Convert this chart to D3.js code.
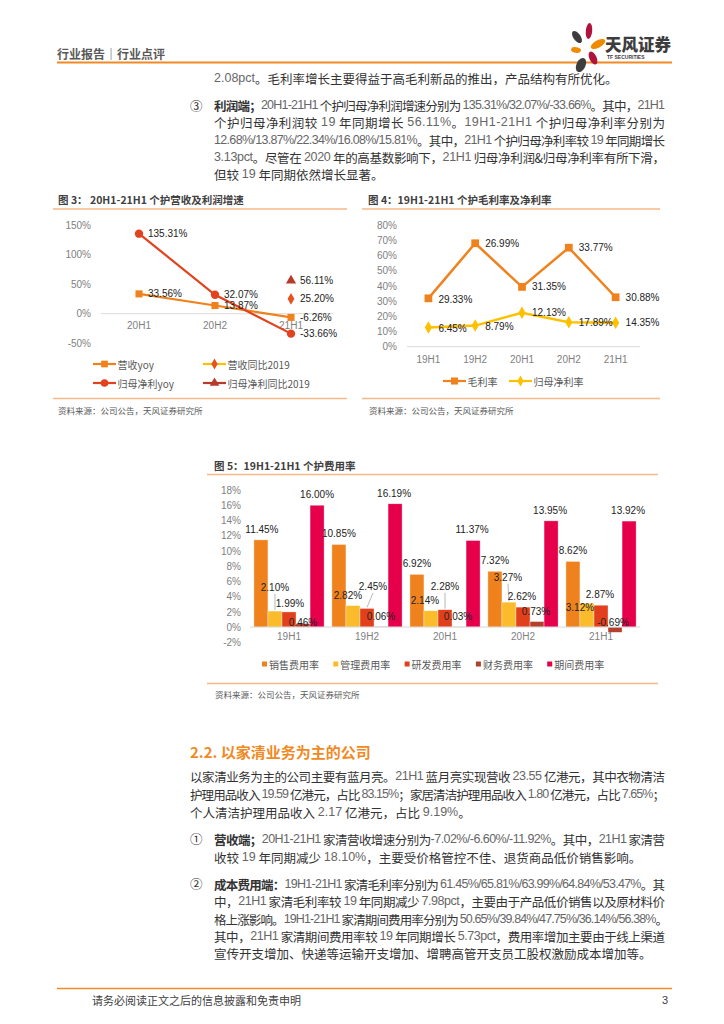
<!DOCTYPE html>
<html><head><meta charset="utf-8">
<script src="https://cdn.jsdelivr.net/npm/d3@7/dist/d3.min.js"></script>
<style>
body{margin:0;background:#fff;}
svg{display:block;}
.body{font-family:"Noto Sans CJK SC","Noto Sans",sans-serif;font-size:12.5px;fill:#333;}
.num{font-family:"Liberation Sans Narrow","Liberation Sans",Arial,sans-serif;fill:#666;font-weight:400;}
.ax text{font-family:"Liberation Sans",Arial,sans-serif;font-size:10px;fill:#7f7f7f;}
.cat{font-family:"Liberation Sans",Arial,sans-serif;font-size:10px;fill:#7f7f7f;}
.lbl{font-family:"Liberation Sans",Arial,sans-serif;font-size:10px;fill:#222;}
.leg{font-family:"Noto Sans CJK SC",sans-serif;font-size:10px;fill:#595959;}
.ttl{font-family:"Noto Sans CJK SC",sans-serif;font-size:10.5px;font-weight:700;fill:#404040;}
.src{font-family:"Noto Sans CJK SC",sans-serif;font-size:8.5px;fill:#595959;}
</style></head>
<body><svg id="page" width="724" height="1024"></svg>
<script>
// ---------------- DATA ----------------
// Figure 3
const cats3 = ['20H1','20H2','21H1'];
const ticks3 = [-50, 0, 50, 100, 150];
const revYoy = [33.56, 13.87, -6.26];
const profitYoy = [135.31, 32.07, -33.66];
const revVs2019 = [null, null, 25.20];
const profitVs2019 = [null, null, 56.11];
const legend3 = ['营收yoy','营收同比2019','归母净利yoy','归母净利同比2019'];
// Figure 4
const cats4 = ['19H1','19H2','20H1','20H2','21H1'];
const ticks4 = [0,10,20,30,40,50,60,70,80];
const grossMargin = [31.8, 68.0, 39.3, 65.1, 32.5];
const grossMarginLabels = ['29.33%','26.99%','31.35%','33.77%','30.88%'];
const netMargin = [12.68, 13.87, 22.34, 16.08, 15.81];
const netMarginLabels = ['6.45%','8.79%','12.13%','17.89%','14.35%'];
const legend4 = ['毛利率','归母净利率'];
// Figure 5
const cats5 = ['19H1','19H2','20H1','20H2','21H1'];
const ticks5 = [-2,0,2,4,6,8,10,12,14,16,18];
const salesRate = [11.45, 10.85, 6.92, 7.32, 8.62];
const adminRate = [2.10, 2.82, 2.14, 3.27, 3.12];
const rdRate = [1.99, 2.45, 2.28, 2.62, 2.87];
const finRate = [0.46, 0.06, 0.03, 0.73, -0.69];
const periodRate = [16.00, 16.19, 11.37, 13.95, 13.92];
const series5 = ['销售费用率','管理费用率','研发费用率','财务费用率','期间费用率'];

// ---------------- LAYOUT / STYLE ----------------
const C = {orange:'#F0821E', yellow:'#FFC000', red:'#E2431E', dred:'#B83A2B', pink:'#E6004C',
  gold:'#FBBB2B', rd:'#E2401C', fin:'#B3402C', line:'#F5B887', hdr:'#F08A24', axis:'#D9D9D9'};
const svg = d3.select('#page');

function rich(x, y, str, bold, width, anchorStart){
  const t = svg.append('text').attr('class','body').attr('x',x).attr('y',y)
    .attr('dominant-baseline','central').attr('xml:space','preserve');
  if(bold) t.append('tspan').attr('font-weight',700).attr('fill','#333').text(bold);
  str.split(/([0-9][0-9A-Za-z.%\/\-]*|[A-Za-z][A-Za-z0-9.%\/\-]*|-[0-9][0-9.%\/\-]*)/).forEach((p,i)=>{
    if(!p) return;
    const ts = t.append('tspan').text(p);
    if(i%2===1) ts.attr('class','num');
  });
  if(width) t.attr('textLength',width).attr('lengthAdjust','spacing');
}

// ---------- header ----------
svg.append('text').attr('x',57).attr('y',53).attr('dominant-baseline','central')
  .attr('font-family','Noto Sans CJK SC').attr('font-size',12).attr('font-weight',700).attr('fill','#595959')
  .text('行业报告｜行业点评');
svg.append('line').attr('x1',57).attr('x2',672).attr('y1',62.5).attr('y2',62.5).attr('stroke',C.hdr).attr('stroke-width',2);
// logo
const logo = svg.append('g');
[[577,37,3.6,7,-35,'#3d3d3d'],[589,31,3.2,8,5,'#B0143C'],[598,44,3.6,8,62,'#F08A00'],[576,50,5,2.8,10,'#F08A00'],
 [593,58,3.6,7,-25,'#B0143C'],[581,65,4.5,7.5,25,'#3d3d3d']].forEach(p=>{
  logo.append('ellipse').attr('cx',p[0]).attr('cy',p[1]).attr('rx',p[2]).attr('ry',p[3])
   .attr('transform',`rotate(${p[4]},${p[0]},${p[1]})`).attr('fill',p[5]);
});
logo.append('text').attr('x',605).attr('y',44).attr('dominant-baseline','central').attr('font-family','Noto Sans CJK SC')
  .attr('font-size',16.5).attr('font-weight',900).attr('fill','#3d3d3d').text('天风证券');
logo.append('text').attr('x',607).attr('y',57).attr('dominant-baseline','central').attr('font-family','Liberation Sans')
  .attr('font-size',5).attr('font-weight',700).attr('fill','#3d3d3d').text('TF SECURITIES');

// ---------- upper text ----------
const R = 665;
rich(214, 78, '2.08pct。毛利率增长主要得益于高毛利新品的推出，产品结构有所优化。');
svg.append('text').attr('class','body').attr('x',190).attr('y',105).attr('dominant-baseline','central').text('③');
rich(214, 105, '20H1-21H1 个护归母净利润增速分别为 135.31%/32.07%/-33.66%。其中，21H1', '利润端；', R-214);
rich(214, 122, '个护归母净利润较 19 年同期增长 56.11%。19H1-21H1 个护归母净利率分别为', null, R-214);
rich(214, 139.5, '12.68%/13.87%/22.34%/16.08%/15.81%。其中，21H1 个护归母净利率较 19 年同期增长', null, R-214);
rich(214, 157, '3.13pct。尽管在 2020 年的高基数影响下，21H1 归母净利润&归母净利率有所下滑，', null, R-214);
rich(214, 174, '但较 19 年同期依然增长显著。');

// ---------- chart frames ----------
function frame(x1,x2,yTop,yBot,title,tx,srcX,srcY){
  svg.append('text').attr('class','ttl').attr('x',tx).attr('y',199.5).attr('dominant-baseline','central').text(title);
  svg.append('line').attr('x1',x1).attr('x2',x2).attr('y1',yTop).attr('y2',yTop).attr('stroke',C.line).attr('stroke-width',1.5);
  svg.append('line').attr('x1',x1).attr('x2',x2).attr('y1',yBot).attr('y2',yBot).attr('stroke',C.line).attr('stroke-width',1.5);
  svg.append('text').attr('class','src').attr('x',srcX).attr('y',srcY).attr('dominant-baseline','central').text('资料来源：公司公告，天风证券研究所');
}
frame(53,347,209,398.5,'图 3：  20H1-21H1 个护营收及利润增速',58,58,410);
frame(362,660,209,398.5,'图 4：19H1-21H1 个护毛利率及净利率',368,369,410);

const sym = (type,size)=>d3.symbol().type(type).size(size)();

// ---------- Figure 3 ----------
{
  const y = d3.scaleLinear().domain([-50,150]).range([343.3,225]);
  const x = d3.scalePoint().domain(cats3).range([101,329]).padding(0.5);
  const g = svg.append('g');
  g.append('g').attr('class','ax').attr('transform','translate(91,0)')
    .call(d3.axisLeft(y).tickValues(ticks3).tickFormat(d=>d+'%').tickSize(0).tickPadding(0))
    .call(a=>a.select('.domain').remove());
  g.append('line').attr('x1',101).attr('x2',333).attr('y1',y(0)).attr('y2',y(0)).attr('stroke',C.axis);
  g.selectAll('.c3').data(cats3).join('text').attr('class','cat').attr('x',d=>x(d)).attr('y',y(0)+12)
    .attr('text-anchor','middle').attr('dominant-baseline','central').text(d=>d);
  const line = d3.line().x((d,i)=>x(cats3[i])).y(d=>y(d));
  g.append('path').attr('d',line(revYoy)).attr('fill','none').attr('stroke',C.orange).attr('stroke-width',2.2);
  g.append('path').attr('d',line(profitYoy)).attr('fill','none').attr('stroke',C.red).attr('stroke-width',2.2);
  const pts = (arr,shape,size,color)=>{
    arr.forEach((v,i)=>{ if(v==null) return;
      g.append('path').attr('d',sym(shape,size)).attr('transform',`translate(${x(cats3[i])},${y(v)})`).attr('fill',color);
      g.append('text').attr('class','lbl').attr('x',x(cats3[i])+9).attr('y',y(v)).attr('dominant-baseline','central')
        .text(v.toFixed(2)+'%');
    });
  };
  pts(revYoy,d3.symbolSquare,50,C.orange);
  pts(profitYoy,d3.symbolCircle,55,C.red);
  pts(revVs2019,d3.symbolDiamond,40,'#E8501E');
  pts(profitVs2019,d3.symbolTriangle,45,C.dred);
  const leg = [[legend3[0],C.orange,C.orange,d3.symbolSquare,45,93,364],[legend3[1],C.yellow,'#E8501E',d3.symbolDiamond,35,203,364],
               [legend3[2],C.red,C.red,d3.symbolCircle,45,93,383],[legend3[3],C.dred,C.dred,d3.symbolTriangle,40,203,383]];
  leg.forEach(l=>{
    g.append('line').attr('x1',l[5]).attr('x2',l[5]+23).attr('y1',l[6]).attr('y2',l[6]).attr('stroke',l[1]).attr('stroke-width',2.2);
    g.append('path').attr('d',sym(l[3],l[4])).attr('transform',`translate(${l[5]+11.5},${l[6]})`).attr('fill',l[2]);
    g.append('text').attr('class','leg').attr('x',l[5]+24.5).attr('y',l[6]).attr('dominant-baseline','central').text(l[0]);
  });
}

// ---------- Figure 4 ----------
{
  const y = d3.scaleLinear().domain([0,80]).range([346.7,225]);
  const x = d3.scalePoint().domain(cats4).range([405,639]).padding(0.5);
  const g = svg.append('g');
  g.append('g').attr('class','ax').attr('transform','translate(397,0)')
    .call(d3.axisLeft(y).tickValues(ticks4).tickFormat(d=>d+'%').tickSize(0).tickPadding(0))
    .call(a=>a.select('.domain').remove());
  g.append('line').attr('x1',407).attr('x2',640).attr('y1',y(0)).attr('y2',y(0)).attr('stroke',C.axis);
  g.selectAll('.c4').data(cats4).join('text').attr('class','cat').attr('x',d=>x(d)).attr('y',y(0)+12.5)
    .attr('text-anchor','middle').attr('dominant-baseline','central').text(d=>d);
  const line = d3.line().x((d,i)=>x(cats4[i])).y(d=>y(d));
  g.append('path').attr('d',line(grossMargin)).attr('fill','none').attr('stroke',C.orange).attr('stroke-width',2.5);
  g.append('path').attr('d',line(netMargin)).attr('fill','none').attr('stroke',C.yellow).attr('stroke-width',2.5);
  grossMargin.forEach((v,i)=>g.append('path').attr('d',sym(d3.symbolSquare,60)).attr('transform',`translate(${x(cats4[i])},${y(v)})`).attr('fill',C.orange));
  netMargin.forEach((v,i)=>g.append('path').attr('d',sym(d3.symbolDiamond,45)).attr('transform',`translate(${x(cats4[i])},${y(v)})`).attr('fill',C.yellow));
  grossMargin.forEach((v,i)=>g.append('text').attr('class','lbl').attr('x',x(cats4[i])+10).attr('y',y(v)+(i===0?1:0)).attr('dominant-baseline','central').text(grossMarginLabels[i]));
  netMargin.forEach((v,i)=>g.append('text').attr('class','lbl').attr('x',x(cats4[i])+10).attr('y',y(v)+(i<2?1:0)).attr('dominant-baseline','central').text(netMarginLabels[i]));
  const leg = [[legend4[0],C.orange,d3.symbolSquare,50,443],[legend4[1],C.yellow,d3.symbolDiamond,35,509]];
  leg.forEach(l=>{
    g.append('line').attr('x1',l[4]).attr('x2',l[4]+23).attr('y1',381).attr('y2',381).attr('stroke',l[1]).attr('stroke-width',2.2);
    g.append('path').attr('d',sym(l[2],l[3])).attr('transform',`translate(${l[4]+11.5},381)`).attr('fill',l[1]);
    g.append('text').attr('class','leg').attr('x',l[4]+24.5).attr('y',381).attr('dominant-baseline','central').text(l[0]);
  });
}

// ---------- Figure 5 ----------
{
  svg.append('text').attr('class','ttl').attr('x',214).attr('y',465).attr('dominant-baseline','central').text('图 5：19H1-21H1 个护费用率');
  svg.append('line').attr('x1',207).attr('x2',658).attr('y1',474.5).attr('y2',474.5).attr('stroke',C.line).attr('stroke-width',1.5);
  svg.append('line').attr('x1',207).attr('x2',658).attr('y1',683.5).attr('y2',683.5).attr('stroke',C.line).attr('stroke-width',1.5);
  svg.append('text').attr('class','src').attr('x',215).attr('y',693.5).attr('dominant-baseline','central').text('资料来源：公司公告，天风证券研究所');

  const vals = [salesRate, adminRate, rdRate, finRate, periodRate];
  const cols = [C.orange, C.gold, C.rd, C.fin, C.pink];
  // label nudges [dx, dy, leader] relative to default position (bar centre, 10.5px above bar end)
  const nudge = [
    [[1,0],[0,0],[0,0],[0,0],[0,0]],
    [[0,-12.8,1],[-5,0],[-6,0],[-1,-14,1],[-7,14.7]],
    [[1,2.4],[6,-11,1],[0,-12.4,1],[-1,0],[-1,0]],
    [[0,9.4],[0,0],[-1,0],[-1,0],[-2,6.4]],
    [[0,0],[-1,0],[-1,0],[-1,0],[-1,0]]
  ];
  const y = d3.scaleLinear().domain([-2,18]).range([642.3,490]);
  const x0 = d3.scaleBand().domain(cats5).range([250,640]).paddingInner(0.1).paddingOuter(0.05);
  const x1 = d3.scaleBand().domain(series5).range([0,x0.bandwidth()]);
  const g = svg.append('g');
  g.append('g').attr('class','ax').attr('transform','translate(241,0)')
    .call(d3.axisLeft(y).tickValues(ticks5).tickFormat(d=>d+'%').tickSize(0).tickPadding(0))
    .call(a=>a.select('.domain').remove());
  series5.forEach((s,si)=>{
    vals[si].forEach((v,ci)=>{
      const bx = x0(cats5[ci])+x1(s);
      g.append('rect').attr('x',bx).attr('width',x1.bandwidth()).attr('y',y(Math.max(0,v)))
        .attr('height',Math.abs(y(v)-y(0))).attr('fill',cols[si]).attr('stroke','#fff').attr('stroke-opacity',0.6).attr('stroke-width',0.6);
    });
  });
  g.append('line').attr('x1',250).attr('x2',640).attr('y1',y(0)).attr('y2',y(0)).attr('stroke',C.axis);
  series5.forEach((s,si)=>{
    vals[si].forEach((v,ci)=>{
      const cx = x0(cats5[ci])+x1(s)+x1.bandwidth()/2;
      const top = y(Math.max(0,v));
      const n = nudge[si][ci];
      const lx = cx+n[0], ly = top-10.5+n[1];
      if(n[2]) g.append('line').attr('x1',lx).attr('y1',ly+6).attr('x2',cx).attr('y2',top-1).attr('stroke','#A6A6A6').attr('stroke-width',0.8);
      g.append('text').attr('class','lbl').attr('x',lx).attr('y',ly).attr('text-anchor','middle').attr('dominant-baseline','central')
        .text(v.toFixed(2)+'%');
    });
  });
  g.selectAll('.c5').data(cats5).join('text').attr('class','cat').attr('x',d=>x0(d)+x0.bandwidth()/2).attr('y',636)
    .attr('text-anchor','middle').attr('dominant-baseline','central').text(d=>d);
  series5.forEach((s,si)=>{
    const lx = 262+si*71.3;
    g.append('rect').attr('x',lx).attr('y',661.5).attr('width',5).attr('height',5).attr('fill',cols[si]);
    g.append('text').attr('class','leg').attr('x',lx+7).attr('y',664.3).attr('dominant-baseline','central').text(s);
  });
}

// ---------- lower text ----------
svg.append('text').attr('x',190).attr('y',751).attr('dominant-baseline','central').attr('font-family','Noto Sans CJK SC')
  .attr('font-size',15).attr('font-weight',700).attr('fill',C.hdr).text('2.2. 以家清业务为主的公司');
rich(190, 775.5, '以家清业务为主的公司主要有蓝月亮。21H1 蓝月亮实现营收 23.55 亿港元，其中衣物清洁', null, R-190);
rich(190, 793.5, '护理用品收入 19.59 亿港元，占比 83.15%；家居清洁护理用品收入 1.80 亿港元，占比 7.65%；', null, R-190);
rich(190, 811.5, '个人清洁护理用品收入 2.17 亿港元，占比 9.19%。');
svg.append('text').attr('class','body').attr('x',190).attr('y',838.5).attr('dominant-baseline','central').text('①');
rich(214, 838.5, '20H1-21H1 家清营收增速分别为-7.02%/-6.60%/-11.92%。其中，21H1 家清营', '营收端；', R-214);
rich(214, 856.5, '收较 19 年同期减少 18.10%，主要受价格管控不佳、退货商品低价销售影响。');
svg.append('text').attr('class','body').attr('x',190).attr('y',883.5).attr('dominant-baseline','central').text('②');
rich(214, 883.5, '19H1-21H1 家清毛利率分别为 61.45%/65.81%/63.99%/64.84%/53.47%。其', '成本费用端：', R-214);
rich(214, 901, '中，21H1 家清毛利率较 19 年同期减少 7.98pct，主要由于产品低价销售以及原材料价', null, R-214);
rich(214, 918.5, '格上涨影响。19H1-21H1 家清期间费用率分别为 50.65%/39.84%/47.75%/36.14%/56.38%。', null, R-214+3);
rich(214, 935.5, '其中，21H1 家清期间费用率较 19 年同期增长 5.73pct，费用率增加主要由于线上渠道', null, R-214);
rich(214, 952.5, '宣传开支增加、快递等运输开支增加、增聘高管开支员工股权激励成本增加等。');

// ---------- footer ----------
svg.append('line').attr('x1',57).attr('x2',672).attr('y1',988.5).attr('y2',988.5).attr('stroke',C.hdr).attr('stroke-width',1.5);
svg.append('text').attr('x',92).attr('y',1000).attr('dominant-baseline','central').attr('font-family','Noto Sans CJK SC')
  .attr('font-size',11).attr('fill','#404040').text('请务必阅读正文之后的信息披露和免责申明');
svg.append('text').attr('x',662).attr('y',1000).attr('dominant-baseline','central').attr('font-family','Liberation Sans')
  .attr('font-size',11).attr('fill','#404040').text('3');
</script></body></html>
